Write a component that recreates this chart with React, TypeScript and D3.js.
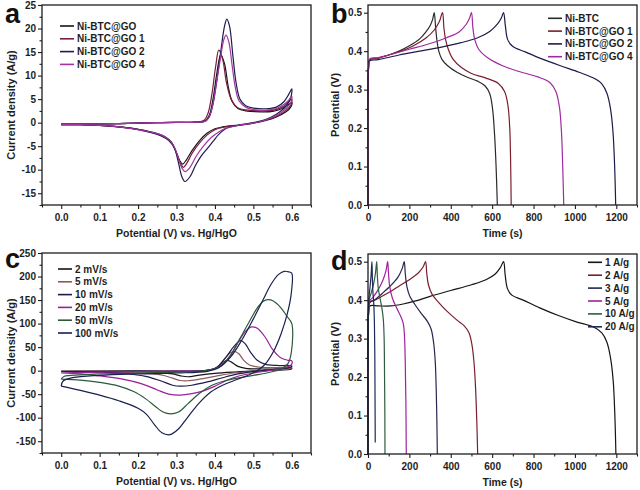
import * as React from 'react';
import * as d3 from 'd3';

type Pt = [number, number];

const FONT = '"Liberation Sans", Arial, sans-serif';

/** ******** Panel a: CV of the four samples ********* */
const A_NAMES = ['Ni-BTC@GO', 'Ni-BTC@GO 1', 'Ni-BTC@GO 2', 'Ni-BTC@GO 4'];
const A_COLORS = ['#151515', '#7a1c3c', '#1c1c4e', '#a235a2'];
const A_X_TICKS = [0, 0.1, 0.2, 0.3, 0.4, 0.5, 0.6];
const A_Y_TICKS = [-15, -10, -5, 0, 5, 10, 15, 20, 25];

const A_BTC: Pt[] = [
    [0, -0.3], [0.05, -0.3], [0.1, -0.25], [0.15, -0.2], [0.2, -0.1], [0.25, 0], [0.3, 0.05], [0.35, 0.1],
    [0.375, 0.4], [0.385, 1.5], [0.395, 5], [0.405, 10.5], [0.415, 14.4], [0.425, 12.5], [0.435, 7.5],
    [0.445, 4.5], [0.46, 3], [0.48, 2.5], [0.52, 2.3], [0.55, 2.4], [0.575, 3], [0.59, 3.8], [0.6, 4.3],
    [0.598, 3.4], [0.585, 2.3], [0.56, 1.2], [0.53, 0.4], [0.5, -0.1], [0.46, -0.5], [0.42, -0.9], [0.4, -1.3],
    [0.38, -2.2], [0.36, -3.8], [0.34, -6], [0.325, -8], [0.316, -8.8], [0.308, -8], [0.298, -6], [0.285, -4],
    [0.27, -3], [0.25, -2.3], [0.2, -1.4], [0.15, -0.9], [0.1, -0.6], [0.05, -0.45], [0, -0.4]
];
const A_GO1: Pt[] = [
    [0, -0.3], [0.05, -0.3], [0.1, -0.25], [0.15, -0.2], [0.2, -0.1], [0.25, 0], [0.3, 0.05], [0.35, 0.1],
    [0.372, 0.5], [0.382, 2], [0.392, 6], [0.402, 12], [0.41, 15.4], [0.42, 13.5], [0.43, 8.5],
    [0.442, 5], [0.457, 3.3], [0.48, 2.7], [0.52, 2.5], [0.55, 2.6], [0.575, 3.3], [0.59, 4.3], [0.6, 5],
    [0.598, 3.8], [0.585, 2.6], [0.56, 1.3], [0.53, 0.5], [0.5, -0.1], [0.46, -0.6], [0.42, -1], [0.4, -1.5],
    [0.38, -2.6], [0.36, -4.3], [0.34, -6.6], [0.327, -8.6], [0.318, -9.5], [0.31, -8.6], [0.3, -6.5], [0.287, -4.2],
    [0.27, -3.1], [0.25, -2.4], [0.2, -1.4], [0.15, -0.9], [0.1, -0.6], [0.05, -0.45], [0, -0.4]
];
const A_GO2: Pt[] = [
    [0, -0.3], [0.05, -0.3], [0.1, -0.25], [0.15, -0.2], [0.2, -0.1], [0.25, 0], [0.3, 0.05], [0.35, 0.1],
    [0.375, 0.3], [0.385, 1.2], [0.395, 4], [0.405, 9], [0.415, 15], [0.425, 20.5], [0.431, 22], [0.438, 20.5],
    [0.447, 14], [0.455, 8.5], [0.465, 5], [0.48, 3.6], [0.5, 3.1], [0.54, 3], [0.56, 3.3], [0.58, 4.5],
    [0.592, 6], [0.6, 7.2], [0.598, 5.5], [0.585, 3.5], [0.56, 1.8], [0.53, 0.6], [0.5, 0], [0.46, -0.6],
    [0.43, -1.2], [0.41, -2.5], [0.395, -4], [0.38, -5.5], [0.365, -7], [0.35, -9], [0.335, -11.5],
    [0.322, -12.5], [0.314, -11.5], [0.305, -8.5], [0.295, -5.5], [0.28, -3.8], [0.26, -2.8], [0.2, -1.5],
    [0.15, -0.9], [0.1, -0.6], [0.05, -0.45], [0, -0.4]
];
const A_GO4: Pt[] = [
    [0, -0.3], [0.05, -0.3], [0.1, -0.25], [0.15, -0.2], [0.2, -0.1], [0.25, 0], [0.3, 0.05], [0.35, 0.1],
    [0.375, 0.3], [0.385, 1.2], [0.395, 4], [0.405, 9], [0.415, 14], [0.423, 17.6], [0.429, 18.6], [0.436, 17.2],
    [0.445, 12], [0.453, 7.5], [0.463, 4.6], [0.48, 3.3], [0.5, 2.8], [0.54, 2.7], [0.56, 3], [0.58, 3.9],
    [0.592, 4.8], [0.6, 5.6], [0.598, 4.4], [0.585, 3], [0.56, 1.5], [0.53, 0.5], [0.5, -0.1], [0.46, -0.6],
    [0.43, -1.1], [0.41, -2], [0.39, -3.2], [0.37, -5], [0.35, -7.3], [0.335, -9.5],
    [0.322, -10.4], [0.313, -9.5], [0.303, -7], [0.292, -4.8], [0.277, -3.4], [0.26, -2.6], [0.2, -1.5],
    [0.15, -0.9], [0.1, -0.6], [0.05, -0.45], [0, -0.4]
];

/** ******** Panel b: GCD of the four samples ********* */
const B_NAMES = ['Ni-BTC', 'Ni-BTC@GO 1', 'Ni-BTC@GO 2', 'Ni-BTC@GO 4'];
const B_COLORS = ['#2a2a2a', '#7a1f2c', '#1c1c4a', '#a02aa0'];
const B_X_TICKS = [0, 200, 400, 600, 800, 1000, 1200];
const B_Y_TICKS = [0, 0.1, 0.2, 0.3, 0.4, 0.5];

const B_BTC: Pt[] = [
    [0, 0], [3, 0.36], [8, 0.378], [50, 0.382], [100, 0.39], [150, 0.4], [200, 0.414], [250, 0.432],
    [280, 0.45], [300, 0.466], [312, 0.482], [320, 0.5], [327, 0.46], [334, 0.425], [342, 0.4], [358, 0.378],
    [385, 0.362], [430, 0.345], [480, 0.332], [530, 0.322], [565, 0.31], [588, 0.29], [602, 0.25],
    [612, 0.18], [619, 0.1], [625, 0]
];
const B_GO1: Pt[] = [
    [0, 0], [3, 0.36], [8, 0.378], [50, 0.382], [100, 0.39], [160, 0.4], [220, 0.414], [280, 0.434],
    [320, 0.455], [345, 0.477], [360, 0.5], [367, 0.46], [375, 0.43], [388, 0.405], [410, 0.38],
    [450, 0.358], [500, 0.342], [570, 0.33], [630, 0.316], [660, 0.295], [676, 0.26], [685, 0.2],
    [689, 0.12], [692, 0]
];
const B_GO2: Pt[] = [
    [0, 0], [3, 0.36], [8, 0.375], [50, 0.378], [150, 0.39], [250, 0.4], [350, 0.41], [450, 0.422],
    [530, 0.435], [590, 0.452], [625, 0.47], [645, 0.487], [655, 0.5], [664, 0.465], [675, 0.43],
    [700, 0.412], [760, 0.398], [840, 0.38], [930, 0.362], [1020, 0.345], [1090, 0.33], [1130, 0.315],
    [1155, 0.29], [1172, 0.25], [1184, 0.19], [1192, 0.1], [1197, 0]
];
const B_GO4: Pt[] = [
    [0, 0], [3, 0.36], [8, 0.38], [50, 0.383], [100, 0.39], [200, 0.405], [300, 0.42], [380, 0.435],
    [440, 0.45], [475, 0.47], [490, 0.485], [500, 0.5], [507, 0.46], [516, 0.43], [535, 0.405],
    [580, 0.382], [650, 0.362], [730, 0.347], [820, 0.333], [880, 0.318], [908, 0.295], [925, 0.255],
    [935, 0.19], [941, 0.1], [946, 0]
];

/** ******** Panel c: CV at different scan rates ********* */
const C_NAMES = ['2 mV/s', '5 mV/s', '10 mV/s', '20 mV/s', '50 mV/s', '100 mV/s'];
const C_COLORS = ['#151515', '#8a5a5e', '#1c1c4e', '#9a1f9a', '#2c5a3a', '#1a2050'];
const C_X_TICKS = [0, 0.1, 0.2, 0.3, 0.4, 0.5, 0.6];
const C_Y_TICKS = [-150, -100, -50, 0, 50, 100, 150, 200, 250];

const C_2: Pt[] = [
    [0, -1], [0.2, -0.5], [0.38, 0.5], [0.405, 6], [0.42, 17], [0.432, 22], [0.445, 17], [0.46, 9],
    [0.48, 5], [0.52, 3.5], [0.57, 4], [0.6, 5], [0.598, 3], [0.55, 1], [0.5, -0.5], [0.45, -3],
    [0.4, -6], [0.36, -9.5], [0.33, -13], [0.31, -11], [0.29, -7], [0.26, -4], [0.2, -2], [0.1, -1.2], [0, -1]
];
const C_5: Pt[] = [
    [0, -1.5], [0.2, -0.8], [0.38, 0.5], [0.405, 7], [0.425, 25], [0.44, 38], [0.45, 41], [0.462, 36],
    [0.475, 22], [0.49, 12], [0.52, 7], [0.56, 6.5], [0.6, 7], [0.598, 5], [0.55, 1.5], [0.5, -1.5],
    [0.45, -5], [0.4, -12], [0.36, -18], [0.33, -21.5], [0.31, -21], [0.29, -16], [0.26, -9], [0.2, -4.5],
    [0.1, -2.2], [0, -1.5]
];
const C_10: Pt[] = [
    [0, -2], [0.2, -1], [0.38, 0.5], [0.405, 7], [0.43, 30], [0.45, 52], [0.466, 64], [0.478, 58],
    [0.492, 40], [0.51, 22], [0.53, 14], [0.56, 11], [0.6, 10], [0.598, 7.5], [0.55, 2], [0.5, -2],
    [0.46, -7], [0.42, -15], [0.38, -24], [0.34, -31], [0.31, -33], [0.29, -31], [0.26, -22], [0.22, -12],
    [0.15, -5], [0.1, -3], [0, -2]
];
const C_20: Pt[] = [
    [0, -5], [0.1, -3], [0.2, -2], [0.3, -1], [0.385, 1], [0.415, 10], [0.44, 32], [0.46, 60],
    [0.48, 84], [0.495, 93], [0.51, 90], [0.53, 72], [0.55, 45], [0.57, 28], [0.59, 22], [0.6, 21],
    [0.599, 13], [0.58, 6], [0.55, 1], [0.5, -5], [0.46, -12], [0.43, -21], [0.4, -33], [0.37, -43],
    [0.34, -49], [0.31, -52], [0.28, -50], [0.25, -41], [0.21, -28], [0.16, -18], [0.1, -11], [0.05, -7], [0, -5]
];
const C_50: Pt[] = [
    [0, -18], [0.008, -12], [0.05, -9], [0.1, -7], [0.2, -5], [0.3, -3], [0.385, 1], [0.415, 10],
    [0.44, 32], [0.465, 68], [0.49, 105], [0.51, 133], [0.525, 147], [0.538, 151], [0.552, 148],
    [0.57, 135], [0.588, 115], [0.6, 100], [0.599, 40], [0.59, 15], [0.57, 3], [0.54, -4], [0.5, -10],
    [0.45, -17], [0.42, -23], [0.39, -32], [0.36, -48], [0.33, -70], [0.305, -88], [0.285, -92],
    [0.265, -88], [0.245, -76], [0.22, -60], [0.19, -45], [0.15, -33], [0.1, -25], [0.05, -20], [0, -18]
];
const C_100: Pt[] = [
    [0, -33], [0.005, -22], [0.03, -15], [0.1, -10], [0.2, -7], [0.3, -5], [0.38, -1.5], [0.41, 6],
    [0.44, 28], [0.47, 65], [0.5, 110], [0.525, 150], [0.545, 182], [0.565, 204], [0.58, 211],
    [0.592, 210], [0.6, 207], [0.598, 160], [0.588, 120], [0.572, 78], [0.552, 40], [0.53, 13],
    [0.51, 0], [0.48, -12], [0.45, -21], [0.42, -31], [0.39, -45], [0.36, -68], [0.33, -98],
    [0.305, -124], [0.283, -136], [0.262, -132], [0.243, -115], [0.222, -93], [0.2, -80], [0.15, -64],
    [0.1, -52], [0.05, -42], [0, -33]
];

/** ******** Panel d: GCD at different current densities ********* */
const D_NAMES = ['1 A/g', '2 A/g', '3 A/g', '5 A/g', '10 A/g', '20 A/g'];
const D_COLORS = ['#151515', '#7a1f2c', '#262650', '#a020a0', '#2e5e40', '#1c2a5a'];
const D_X_TICKS = [0, 200, 400, 600, 800, 1000, 1200];
const D_Y_TICKS = [0, 0.1, 0.2, 0.3, 0.4, 0.5];

const D_1: Pt[] = [
    [0, 0], [3, 0.37], [8, 0.385], [50, 0.385], [110, 0.385], [170, 0.39], [230, 0.398], [300, 0.41],
    [400, 0.425], [500, 0.44], [570, 0.453], [615, 0.468], [640, 0.485], [655, 0.5], [663, 0.465],
    [674, 0.43], [695, 0.413], [750, 0.4], [830, 0.38], [920, 0.36], [1010, 0.343], [1090, 0.33],
    [1130, 0.315], [1155, 0.29], [1172, 0.25], [1185, 0.19], [1193, 0.1], [1198, 0]
];
const D_2: Pt[] = [
    [0, 0], [3, 0.37], [8, 0.393], [40, 0.402], [100, 0.42], [160, 0.44], [210, 0.457], [245, 0.472],
    [267, 0.487], [278, 0.5], [284, 0.47], [292, 0.44], [310, 0.415], [340, 0.395], [380, 0.372],
    [430, 0.348], [465, 0.333], [488, 0.315], [502, 0.285], [512, 0.24], [520, 0.17], [526, 0.08], [530, 0]
];
const D_3: Pt[] = [
    [0, 0], [3, 0.37], [8, 0.395], [30, 0.4], [70, 0.418], [110, 0.438], [145, 0.46], [165, 0.482],
    [175, 0.5], [180, 0.47], [188, 0.435], [202, 0.41], [225, 0.39], [258, 0.365], [287, 0.345],
    [305, 0.325], [317, 0.29], [325, 0.24], [330, 0.16], [333, 0.08], [335, 0]
];
const D_5: Pt[] = [
    [0, 0], [3, 0.37], [8, 0.398], [25, 0.408], [50, 0.428], [72, 0.452], [87, 0.477], [95, 0.5],
    [99, 0.47], [105, 0.435], [118, 0.405], [138, 0.38], [158, 0.358], [170, 0.34], [176, 0.31],
    [180, 0.24], [183, 0.14], [185, 0]
];
const D_10: Pt[] = [
    [0, 0], [2, 0.37], [6, 0.402], [15, 0.418], [27, 0.442], [36, 0.47], [42, 0.5], [45, 0.465],
    [50, 0.43], [58, 0.405], [67, 0.38], [74, 0.35], [78, 0.3], [80, 0.2], [81.5, 0.1], [82, 0]
];
const D_20: Pt[] = [
    [0, 0], [1.5, 0.37], [5, 0.41], [10, 0.435], [15, 0.465], [19, 0.5], [21, 0.46], [24, 0.42],
    [28, 0.39], [31, 0.34], [33, 0.25], [34, 0.15], [35, 0.03]
];

interface Series {
    name: string;
    color: string;
    data: Pt[];
}

interface Panel {
    letter: string;
    letterX: number;
    letterY: number;
    left: number;
    right: number;
    top: number;
    bottom: number;
    xDomain: [number, number];
    yDomain: [number, number];
    xTicks: number[];
    xMinor: number[];
    yTicks: number[];
    yMinor: number[];
    xFmt: (v: number) => string;
    yFmt: (v: number) => string;
    xTitle: string;
    yTitle: string;
    xTitleY: number;
    yTitleX: number;
    series: Series[];
    legendX: number;
    legendY: number;
    legendStep: number;
}

const minorOf = (ticks: number[], step: number, lo: number, hi: number) => {
    const out: number[] = [];
    for (let v = ticks[0] - step; v >= lo - 1e-9; v -= step) out.push(v);
    ticks.forEach((t, i) => {
        out.push(t);
        if (i < ticks.length - 1) out.push((t + ticks[i + 1]) / 2);
    });
    for (let v = ticks[ticks.length - 1] + step; v <= hi + 1e-9; v += step) out.push(v);
    return out.filter(v => !ticks.some(t => Math.abs(t - v) < 1e-9));
};

const mk = (names: string[], colors: string[], data: Pt[][]): Series[] =>
    names.map((n, i) => ({ name: n, color: colors[i], data: data[i] }));

const PANELS: Panel[] = [
    {
        letter: 'a', letterX: 5, letterY: 23,
        left: 42, right: 311, top: 5, bottom: 205,
        xDomain: [-0.05, 0.65], yDomain: [-17.5, 25],
        xTicks: A_X_TICKS, xMinor: minorOf(A_X_TICKS, 0.05, -0.05, 0.65),
        yTicks: A_Y_TICKS, yMinor: minorOf(A_Y_TICKS, 2.5, -17.5, 25),
        xFmt: v => v.toFixed(1), yFmt: v => String(v),
        xTitle: 'Potential (V) vs. Hg/HgO', yTitle: 'Current density (A/g)',
        xTitleY: 237, yTitleX: 15,
        series: mk(A_NAMES, A_COLORS, [A_BTC, A_GO1, A_GO2, A_GO4]),
        legendX: 60, legendY: 26, legendStep: 12.8
    },
    {
        letter: 'b', letterX: 331, letterY: 23,
        left: 368, right: 637, top: 5, bottom: 205,
        xDomain: [0, 1300], yDomain: [0, 0.52],
        xTicks: B_X_TICKS, xMinor: minorOf(B_X_TICKS, 100, 0, 1300),
        yTicks: B_Y_TICKS, yMinor: minorOf(B_Y_TICKS, 0.05, 0, 0.52),
        xFmt: v => String(v), yFmt: v => v.toFixed(1),
        xTitle: 'Time (s)', yTitle: 'Potential (V)',
        xTitleY: 237, yTitleX: 339,
        series: mk(B_NAMES, B_COLORS, [B_BTC, B_GO1, B_GO2, B_GO4]),
        legendX: 548, legendY: 18.3, legendStep: 12.8
    },
    {
        letter: 'c', letterX: 5, letterY: 268,
        left: 42, right: 311, top: 253, bottom: 453,
        xDomain: [-0.05, 0.65], yDomain: [-175, 250],
        xTicks: C_X_TICKS, xMinor: minorOf(C_X_TICKS, 0.05, -0.05, 0.65),
        yTicks: C_Y_TICKS, yMinor: minorOf(C_Y_TICKS, 25, -175, 250),
        xFmt: v => v.toFixed(1), yFmt: v => String(v),
        xTitle: 'Potential (V) vs. Hg/HgO', yTitle: 'Current density (A/g)',
        xTitleY: 485, yTitleX: 15,
        series: mk(C_NAMES, C_COLORS, [C_2, C_5, C_10, C_20, C_50, C_100]),
        legendX: 58, legendY: 269, legendStep: 12.8
    },
    {
        letter: 'd', letterX: 331, letterY: 270,
        left: 368, right: 637, top: 254, bottom: 454,
        xDomain: [0, 1300], yDomain: [0, 0.52],
        xTicks: D_X_TICKS, xMinor: minorOf(D_X_TICKS, 100, 0, 1300),
        yTicks: D_Y_TICKS, yMinor: minorOf(D_Y_TICKS, 0.05, 0, 0.52),
        xFmt: v => String(v), yFmt: v => v.toFixed(1),
        xTitle: 'Time (s)', yTitle: 'Potential (V)',
        xTitleY: 486, yTitleX: 339,
        series: mk(D_NAMES, D_COLORS, [D_1, D_2, D_3, D_5, D_10, D_20]),
        legendX: 588, legendY: 262.3, legendStep: 12.9
    }
];

const INK = '#1e1e1e';

const drawPanel = (root: d3.Selection<SVGSVGElement, unknown, null, undefined>, p: Panel) => {
    const x = d3.scaleLinear().domain(p.xDomain).range([p.left, p.right]);
    const y = d3.scaleLinear().domain(p.yDomain).range([p.bottom, p.top]);
    const g = root.append('g');

    /** ******** Curves ********* */
    const line = d3
        .line<Pt>()
        .x(d => x(d[0]))
        .y(d => y(d[1]))
        .curve(d3.curveCatmullRom.alpha(0.5));
    p.series.forEach(s => {
        g.append('path')
            .attr('d', line(s.data))
            .attr('fill', 'none')
            .attr('stroke', s.color)
            .attr('stroke-width', 1.2)
            .attr('stroke-linejoin', 'round');
    });

    /** ******** Frame & axes ********* */
    g.append('rect')
        .attr('x', p.left)
        .attr('y', p.top)
        .attr('width', p.right - p.left)
        .attr('height', p.bottom - p.top)
        .attr('fill', 'none')
        .attr('stroke', INK)
        .attr('stroke-width', 1.3);

    const style = (sel: d3.Selection<SVGGElement, unknown, null, undefined>) => {
        sel.select('.domain').remove();
        sel.attr('color', INK)
            .attr('font-family', FONT)
            .attr('font-size', 10)
            .attr('font-weight', 'bold');
        sel.selectAll('line').attr('stroke-width', 1.1);
    };

    g.append('g')
        .attr('transform', `translate(0,${p.bottom})`)
        .call(d3.axisBottom(x).tickValues(p.xTicks).tickSize(4).tickPadding(5).tickFormat(d => p.xFmt(+d)))
        .call(style);
    g.append('g')
        .attr('transform', `translate(0,${p.bottom})`)
        .call(d3.axisBottom(x).tickValues(p.xMinor).tickSize(2.5).tickFormat(() => ''))
        .call(style);
    g.append('g')
        .attr('transform', `translate(${p.left},0)`)
        .call(d3.axisLeft(y).tickValues(p.yTicks).tickSize(4).tickPadding(2).tickFormat(d => p.yFmt(+d)))
        .call(style);
    g.append('g')
        .attr('transform', `translate(${p.left},0)`)
        .call(d3.axisLeft(y).tickValues(p.yMinor).tickSize(2.5).tickFormat(() => ''))
        .call(style);

    /** ******** Titles ********* */
    g.append('text')
        .attr('x', (p.left + p.right) / 2 + (p.xTitle.length > 10 ? 0 : 0))
        .attr('y', p.xTitleY)
        .attr('text-anchor', 'middle')
        .attr('font-family', FONT)
        .attr('font-size', 10.5)
        .attr('font-weight', 'bold')
        .attr('fill', INK)
        .text(p.xTitle);
    g.append('text')
        .attr('transform', `translate(${p.yTitleX},${(p.top + p.bottom) / 2}) rotate(-90)`)
        .attr('text-anchor', 'middle')
        .attr('font-family', FONT)
        .attr('font-size', 11)
        .attr('font-weight', 'bold')
        .attr('fill', INK)
        .text(p.yTitle);
    g.append('text')
        .attr('x', p.letterX)
        .attr('y', p.letterY)
        .attr('font-family', FONT)
        .attr('font-size', 27)
        .attr('font-weight', 'bold')
        .attr('fill', '#111')
        .text(p.letter);

    /** ******** Legend ********* */
    const leg = g.append('g').attr('transform', `translate(${p.legendX},${p.legendY})`);
    p.series.forEach((s, i) => {
        const row = leg.append('g').attr('transform', `translate(0,${i * p.legendStep})`);
        row.append('line')
            .attr('x1', 0)
            .attr('x2', 14)
            .attr('stroke', s.color)
            .attr('stroke-width', 1.6);
        row.append('text')
            .attr('x', 17)
            .attr('dy', '0.35em')
            .attr('font-family', FONT)
            .attr('font-size', 10)
            .attr('font-weight', 'bold')
            .attr('fill', INK)
            .text(s.name);
    });
};

const App: React.FC = () => {
    const svgRef = React.useRef<SVGSVGElement>(null);

    React.useEffect(() => {
        const svg = d3.select(svgRef.current as SVGSVGElement);
        svg.selectAll('*').remove();
        svg.append('rect').attr('width', 640).attr('height', 490).attr('fill', '#fff');
        PANELS.forEach(p => drawPanel(svg, p));
    }, []);

    return (
        <svg
            ref={svgRef}
            width={640}
            height={490}
            style={{ position: 'absolute', left: 0, top: 0, display: 'block' }}
        />
    );
};

export default App;
